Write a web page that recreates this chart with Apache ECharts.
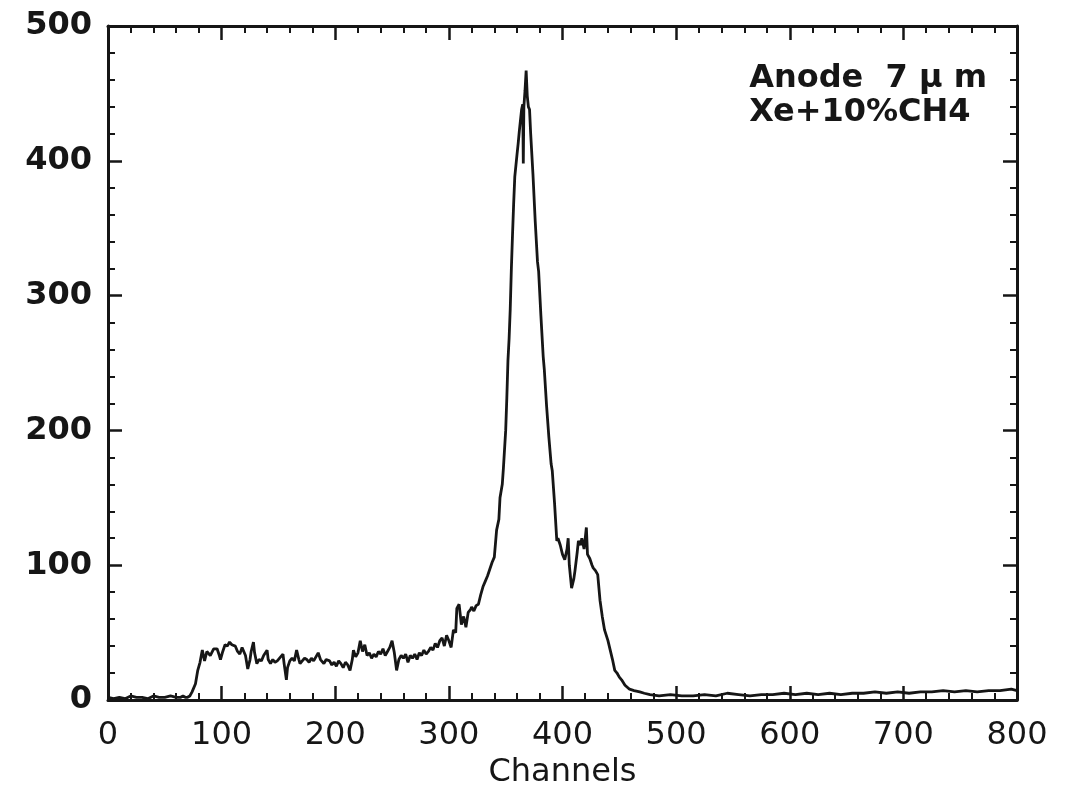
<!DOCTYPE html>
<html>
<head>
<meta charset="utf-8">
<script src="https://cdn.jsdelivr.net/npm/echarts@6/dist/echarts.min.js"></script>
<style>
html,body{margin:0;padding:0;background:#ffffff;}
#chart{width:1067px;height:794px;}
</style>
</head>
<body>
<div id="chart"></div>
<script>
// Channel positions (x) and counts (y)
const channels = [
  0,5,10,15,20,25,30,35,40,45,50,55,60,64,66,68,70,72,74,77,79,81,83,85,87,88,90,91,93,96,98,99,
  101,103,105,107,109,112,114,116,118,119,121,123,125,126,128,129,131,133,135,137,140,141,143,145,147,149,
  151,154,155,157,158,160,162,164,166,168,169,171,173,175,177,179,181,183,185,187,190,192,195,197,199,
  201,203,205,207,209,211,213,215,216,218,220,222,224,226,228,230,232,234,236,238,240,242,244,246,248,
  250,252,254,256,258,260,262,264,266,268,270,272,274,276,278,280,282,284,286,288,290,292,294,296,298,
  300,302,304,306,307,309,311,313,315,317,319,320,322,324,326,328,330,332,334,336,338,340,342,344,345,
  347,348,350,351,352,353,354,355,356,357,358,360,361,362,364,365,365.5,366,367,368,369,370,371,372,374,
  376,378,379,381,383,384,386,388,390,391,393,395,396,398,400,402,404,405,406,408,410,411,413,414,416,
  417,419,421,422,424,426,427,429,431,433,435,437,440,442,444,446,448,450,452,455,459,463,468,472,477,
  485,495,505,515,525,535,545,555,565,575,585,595,605,615,625,635,645,655,665,675,685,695,705,715,725,
  735,745,755,765,775,785,795,800
];
const counts = [
  2,1,2,1,3,2,2,1,3,2,2,3,2,2,3,2,2,3,6,12,22,28,37,29,36,37,33,34,38,38,33,30,
  36,41,40,43,41,40,36,34,39,38,33,23,30,36,43,35,27,30,29,33,37,30,27,30,28,29,
  31,34,27,15,24,29,31,29,37,30,27,29,31,30,28,31,29,32,35,30,27,30,29,26,28,
  25,29,27,24,28,26,22,30,37,32,35,44,36,41,33,35,31,34,32,36,34,38,33,36,39,
  44,35,22,30,33,31,34,28,33,31,34,30,35,33,37,34,36,39,37,42,39,44,46,40,48,
  44,39,52,50,68,71,56,62,54,65,67,69,66,70,71,78,84,88,92,97,102,106,126,134,150,
  160,172,200,224,252,268,290,320,345,368,388,405,413,422,438,442,398,440,452,467,448,440,438,420,390,
  355,325,318,285,255,245,218,195,175,170,146,118,120,115,108,104,112,120,100,83,90,96,110,118,115,
  120,112,128,108,105,100,98,96,93,74,62,52,44,37,30,22,20,17,15,11,8,7,6,5,4,
  3,4,3,3,4,3,5,4,3,4,4,5,4,5,4,5,4,5,5,6,5,6,5,6,6,
  7,6,7,6,7,7,8,7
];
const xTicks = [0,100,200,300,400,500,600,700,800];
const yTicks = [0,100,200,300,400,500];

const seriesData = channels.map((c, i) => [c, counts[i]]);

const ink = '#161616';
const axisBase = {
  min: 0,
  axisLine: { show: true, onZero: false, lineStyle: { color: ink, width: 3 } },
  axisTick: { show: true, inside: true, length: 14, lineStyle: { color: ink, width: 2.5 } },
  minorTick: { show: true, splitNumber: 5, length: 7, lineStyle: { color: ink, width: 2 } },
  splitLine: { show: false },
  minorSplitLine: { show: false }
};

const chart = echarts.init(document.getElementById('chart'), null, { renderer: 'canvas' });
chart.setOption({
  backgroundColor: '#ffffff',
  animation: false,
  grid: { left: 108, right: 50, top: 26, bottom: 91, containLabel: false },
  xAxis: [
    Object.assign({}, axisBase, {
      type: 'value', position: 'bottom', max: xTicks[xTicks.length - 1], interval: 100,
      name: 'Channels', nameLocation: 'middle', nameGap: 57,
      nameTextStyle: { fontFamily: 'DejaVu Sans', fontSize: 32, color: ink },
      axisLabel: { show: true, margin: 20, fontFamily: 'DejaVu Sans', fontSize: 32, color: ink,
        formatter: v => xTicks.includes(v) ? String(v) : '' }
    }),
    Object.assign({}, axisBase, {
      type: 'value', position: 'top', max: xTicks[xTicks.length - 1], interval: 100,
      axisLabel: { show: false }
    })
  ],
  yAxis: [
    Object.assign({}, axisBase, {
      type: 'value', position: 'left', max: yTicks[yTicks.length - 1], interval: 100,
      axisLabel: { show: true, margin: 16, fontFamily: 'DejaVu Sans', fontWeight: 'bold', fontSize: 32, color: ink,
        formatter: v => yTicks.includes(v) ? String(v) : '' }
    }),
    Object.assign({}, axisBase, {
      type: 'value', position: 'right', max: yTicks[yTicks.length - 1], interval: 100,
      axisLabel: { show: false }
    })
  ],
  graphic: [
    {
      type: 'text', right: 80, top: 62,
      style: {
        text: 'Anode  7 μ m\nXe+10%CH4',
        fontFamily: 'DejaVu Sans', fontWeight: 'bold', fontSize: 32, lineHeight: 34,
        fill: ink, align: 'right'
      }
    }
  ],
  series: [
    {
      type: 'line', xAxisIndex: 0, yAxisIndex: 0,
      data: seriesData,
      showSymbol: false, symbol: 'none',
      lineStyle: { color: ink, width: 2.8 },
      z: 3
    }
  ]
});
</script>
</body>
</html>
